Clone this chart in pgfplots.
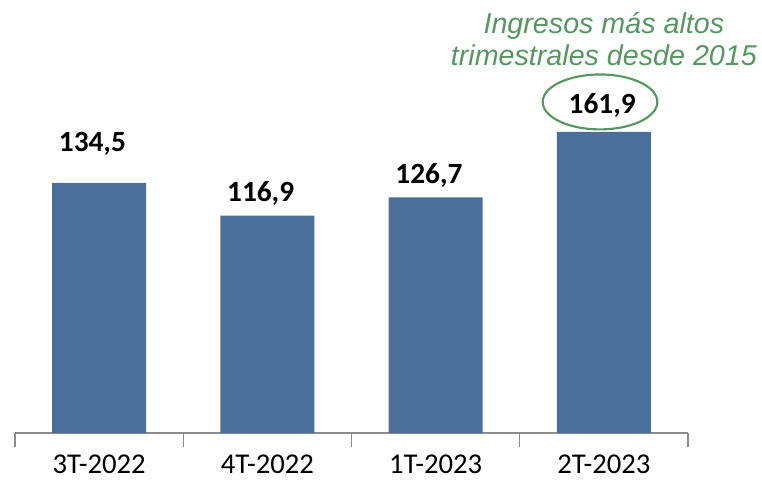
\documentclass[border=0pt]{standalone}
\usepackage{fontspec}
\setmainfont{Carlito}
\newfontfamily\arialf{Liberation Sans}
\usepackage{pgfplots}
\pgfplotsset{compat=1.18}
\definecolor{barblue}{RGB}{74,112,154}
\definecolor{annogreen}{RGB}{84,152,96}
\definecolor{axgray}{RGB}{140,140,140}
\begin{document}
\begin{tikzpicture}
\path[use as bounding box] (0,0) rectangle (571.5pt,361.5pt);
\begin{axis}[
  at={(11.25pt,36.75pt)}, anchor=south west,
  width=504.75pt, height=324.75pt, scale only axis,
  xmin=-0.5, xmax=3.5, ymin=0, ymax=232.8,
  axis x line=bottom, axis y line=none,
  x axis line style={-, draw=axgray, line width=0.8pt},
  xtick={0,1,2,3},
  xticklabels={3T-2022,4T-2022,1T-2023,2T-2023},
  minor xtick={-0.5,0.5,1.5,2.5,3.5},
  major tick length=0pt, minor tick length=10.5pt,
  tick align=outside,
  minor tick style={draw=axgray, line width=0.8pt},
  xticklabel style={anchor=base, inner sep=0.5pt, yshift=-30pt, font=\fontsize{21.5}{25}\selectfont, text=black},
  clip=false,
]
\addplot[ybar, bar width=70.5pt, fill=barblue, draw=none] coordinates {(0,134.5) (1,116.9) (2,126.7) (3,161.9)};
\node[anchor=base, font=\bfseries\fontsize{22}{26}\selectfont] at (axis cs:-0.04,151.6) {134,5};
\node[anchor=base, font=\bfseries\fontsize{22}{26}\selectfont] at (axis cs:0.96,124.7) {116,9};
\node[anchor=base, font=\bfseries\fontsize{22}{26}\selectfont] at (axis cs:1.96,133.9) {126,7};
\node[anchor=base, font=\bfseries\fontsize{22}{26}\selectfont] at (axis cs:2.99,172.0) {161,9};
\draw[annogreen, line width=1.6pt] (axis cs:2.977,178) ellipse [x radius=43pt, y radius=20.6pt];
\node[anchor=base, text=annogreen, font=\arialf\itshape\fontsize{21.5}{25}\selectfont] at (axis cs:3.0,215.0) {Ingresos más altos};
\node[anchor=base, text=annogreen, font=\arialf\itshape\fontsize{21.5}{25}\selectfont] at (axis cs:3.0,197.8) {trimestrales desde 2015};
\end{axis}
\end{tikzpicture}
\end{document}
